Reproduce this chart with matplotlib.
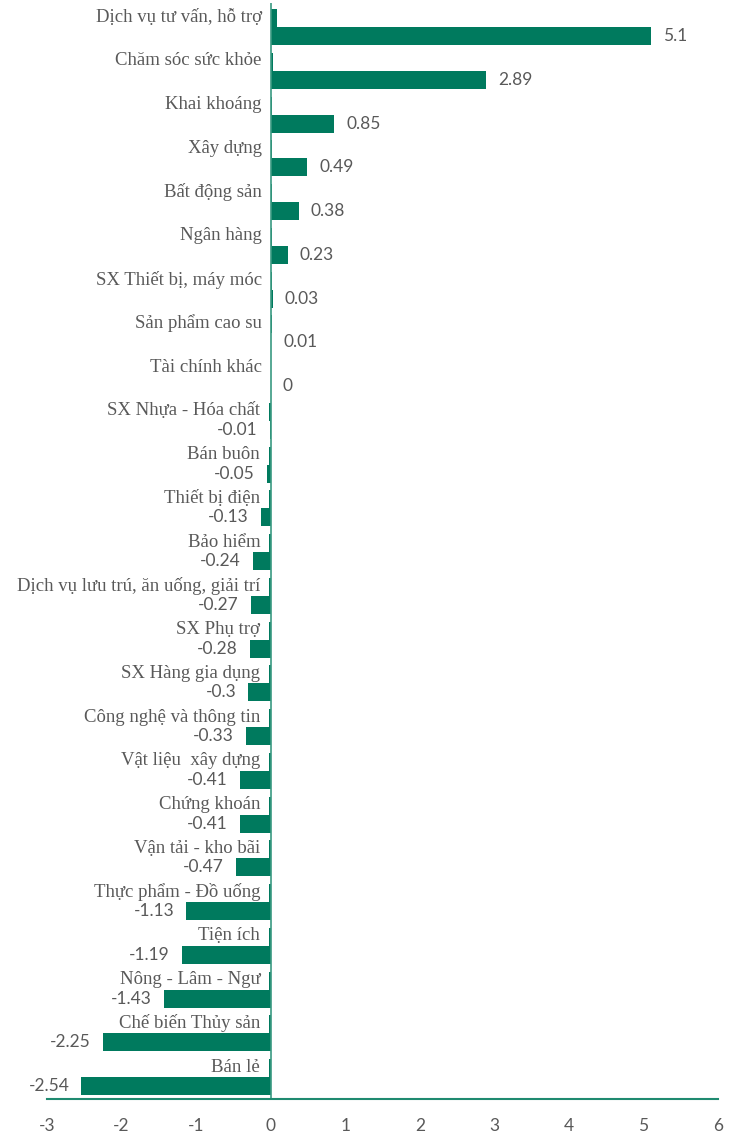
import matplotlib.pyplot as plt

plt.rcParams['axes.unicode_minus'] = False

nganh = ['Dịch vụ tư vấn, hỗ trợ', 'Chăm sóc sức khỏe', 'Khai khoáng', 'Xây dựng',
         'Bất động sản', 'Ngân hàng', 'SX Thiết bị, máy móc', 'Sản phẩm cao su',
         'Tài chính khác', 'SX Nhựa - Hóa chất', 'Bán buôn', 'Thiết bị điện',
         'Bảo hiểm', 'Dịch vụ lưu trú, ăn uống, giải trí', 'SX Phụ trợ',
         'SX Hàng gia dụng', 'Công nghệ và thông tin', 'Vật liệu  xây dựng',
         'Chứng khoán', 'Vận tải - kho bãi', 'Thực phẩm - Đồ uống', 'Tiện ích',
         'Nông - Lâm - Ngư', 'Chế biến Thủy sản', 'Bán lẻ']
gia_tri = [5.1, 2.89, 0.85, 0.49, 0.38, 0.23, 0.03, 0.01, 0, -0.01, -0.05, -0.13,
           -0.24, -0.27, -0.28, -0.3, -0.33, -0.41, -0.41, -0.47, -1.13, -1.19,
           -1.43, -2.25, -2.54]
# chuoi phu (thanh nho sat truc 0)
gia_tri_phu = [0.08, 0.03, 0.02, 0.02, 0.02, 0.02, 0.02, 0.02, 0.0, -0.02, -0.02,
               -0.02, -0.02, -0.02, -0.02, -0.02, -0.02, -0.02, -0.02, -0.02,
               -0.02, -0.02, -0.02, -0.02, -0.02]

mau = '#007A5E'
xam = '#595959'

fig = plt.figure(figsize=(7.47, 11.35), dpi=100)
ax = fig.add_axes([47 / 747, 36 / 1135, 671 / 747, 1096 / 1135])

n = len(nganh)
vt = list(range(n))
h = 0.41
ax.barh([v - h / 2 for v in vt], gia_tri_phu, height=h, color=mau)
ax.barh([v + h / 2 for v in vt], gia_tri, height=h, color=mau)

ax.set_xlim(-3, 6)
ax.set_ylim(n - 0.5, -0.55)
ax.axvline(0, color='#3a9a82', lw=1.2)

for i in range(n):
    v = gia_tri[i]
    lbl = ('%g' % v)
    if v >= 0:
        ax.annotate(lbl, (v, i + h / 2), xytext=(12, 0), textcoords='offset pixels',
                    ha='left', va='center', fontsize=12.5, color=xam, family='Lato')
    else:
        ax.annotate(lbl, (v, i + h / 2), xytext=(-12, 0), textcoords='offset pixels',
                    ha='right', va='center', fontsize=12.5, color=xam, family='Lato')
    ax.annotate(nganh[i], (min(0, gia_tri_phu[i]), i - h / 2), xytext=(-9, 1),
                textcoords='offset pixels', ha='right', va='center', fontsize=13.5,
                color=xam, family='Liberation Serif')

for s in ['top', 'right', 'left']:
    ax.spines[s].set_visible(False)
ax.spines['bottom'].set_color('#1f8a70')
ax.spines['bottom'].set_linewidth(1.5)
ax.set_yticks([])
ax.set_xticks(range(-3, 7))
ax.tick_params(axis='x', length=0, pad=14, labelsize=12.5, labelcolor=xam)
for t in ax.get_xticklabels():
    t.set_family('Lato')

fig.savefig('out.png', dpi=100)
